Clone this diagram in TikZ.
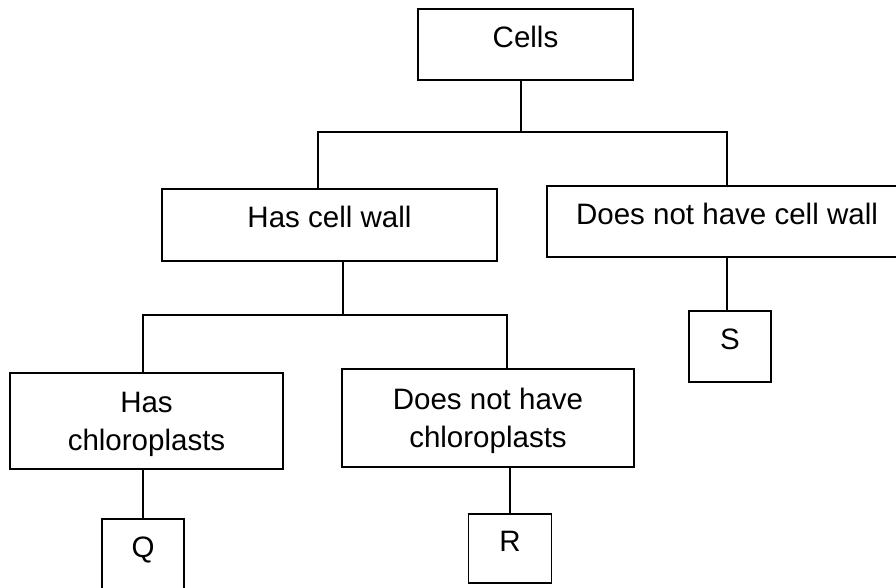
\documentclass[tikz,border=0pt]{standalone}
\usepackage{fontspec}
\setmainfont{Liberation Sans}

\begin{document}
\begin{tikzpicture}[x=0.02cm, y=-0.02cm,
  box/.style={draw, line width=1pt, inner sep=0pt, font=\fontsize{16.8}{22}\selectfont},
  onebox/.style={box, text height=12pt, text depth=9pt},
  twobox/.style={box, align=center},
  link/.style={draw, line width=1pt}]
  \useasboundingbox[fill=white] (0,0) rectangle (896,588);

  % first split: cell wall or not
  \node[onebox, minimum width=4.30cm, minimum height=1.42cm] (cells) at (525.5,44.5) {Cells};
  \node[onebox, minimum width=6.70cm, minimum height=1.44cm] (hcw) at (329.5,225) {Has cell wall};
  \node[onebox, minimum width=7.20cm, minimum height=1.42cm] (ncw) at (727,221.5) {Does not have cell wall};

  % second split: chloroplasts or not
  \node[twobox, minimum width=5.46cm, minimum height=1.92cm] (hch) at (146.5,421) {\strut Has\\chloroplasts};
  \node[twobox, minimum width=5.84cm, minimum height=1.96cm] (nch) at (488,418) {\strut Does not have\\chloroplasts};

  % leaves
  \node[onebox, minimum width=1.64cm, minimum height=1.42cm] (q) at (143,554.5) {Q};
  \node[onebox, minimum width=1.66cm, minimum height=1.38cm] (r) at (510,548.5) {R};
  \node[onebox, minimum width=1.64cm, minimum height=1.42cm] (s) at (730,346.5) {S};

  \coordinate (fork1) at (521,132);
  \coordinate (fork2) at (343,315);

  \draw[link] ([xshift=-0.09cm]cells.south) -- (fork1);
  \draw[link] ([xshift=-0.23cm]hcw.north) |- (fork1) -| (ncw.north);
  \draw[link] ([xshift=0.27cm]hcw.south) -- (fork2);
  \draw[link] ([xshift=-0.07cm]hch.north) |- (fork2) -| ([xshift=0.38cm]nch.north);
  \draw[link] (q.north |- hch.south) -- (q.north);
  \draw[link] (r.north |- nch.south) -- (r.north);
  \draw[link] (ncw.south) -- (ncw.south |- s.north);
\end{tikzpicture}
\end{document}
